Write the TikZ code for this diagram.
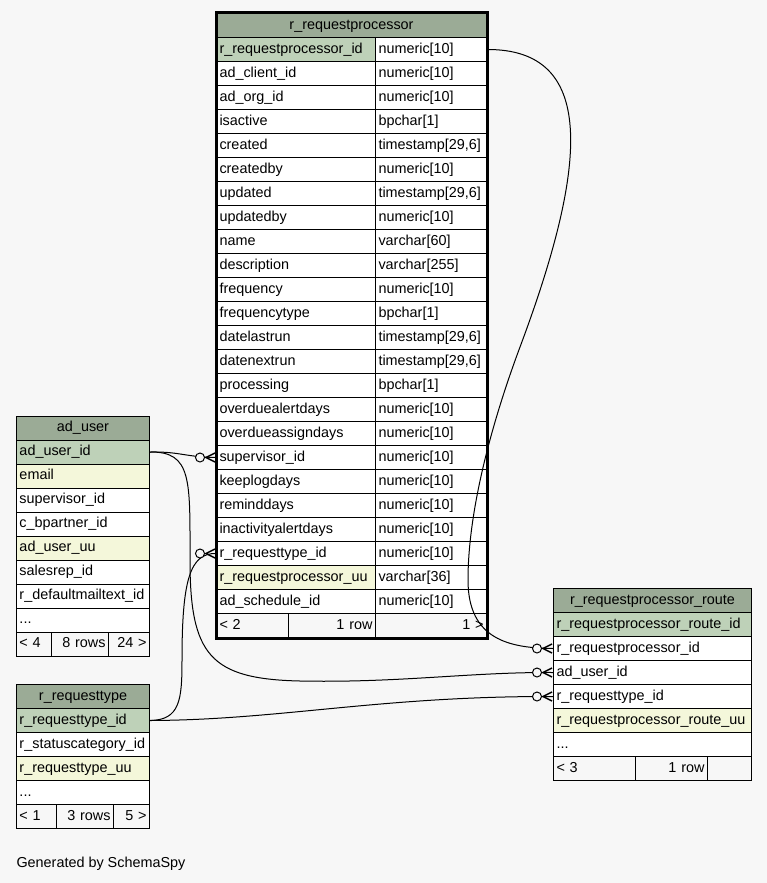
\documentclass[tikz,border=0pt]{standalone}
\usepackage{fontspec}
\setmainfont{Liberation Sans}
\usetikzlibrary{calc}

\definecolor{hdrc}{HTML}{9BAB96}
\definecolor{keyc}{HTML}{BED1B8}
\definecolor{idxc}{HTML}{F4F7DA}
\definecolor{pagebg}{HTML}{F7F7F7}

\tikzset{
  cell/.style={draw, fill=white, anchor=north west, minimum height=24pt,
    inner xsep=3pt, inner ysep=0pt, text height=11pt, text depth=3.5pt, align=left},
  head/.style={cell, fill=hdrc, align=center},
  key/.style={cell, fill=keyc},
  idx/.style={cell, fill=idxc},
  foot/.style={cell, fill=none, align=right},
}

% circle and crow's foot at the west side of a row
\newcommand{\crowodot}[1]{%
  \draw[fill=pagebg] ($(#1.west)+(-16,0)$) circle (4.5);
  \draw[line width=1.4pt] ($(#1.west)+(-1,-4.5)$) -- ($(#1.west)+(-10,0)$) -- ($(#1.west)+(-1,4.5)$);
}

\begin{document}
\begin{tikzpicture}[x=1pt,y=-1pt,line width=1pt,font=\fontsize{14.4pt}{17pt}\selectfont]
\fill[pagebg] (0,0) rectangle (767,883);
\useasboundingbox (0,0) rectangle (767,883);

% r_requestprocessor
\node[head, text width=264pt] (rp) at (216,13) {r\_requestprocessor};
\node[key, text width=153pt] (rp-1) at (216,37) {r\_requestprocessor\_id};
\node[cell, text width=105pt] (rp-1t) at (375,37) {numeric[10]};
\node[cell, text width=153pt] (rp-2) at (216,61) {ad\_client\_id};
\node[cell, text width=105pt] (rp-2t) at (375,61) {numeric[10]};
\node[cell, text width=153pt] (rp-3) at (216,85) {ad\_org\_id};
\node[cell, text width=105pt] (rp-3t) at (375,85) {numeric[10]};
\node[cell, text width=153pt] (rp-4) at (216,109) {isactive};
\node[cell, text width=105pt] (rp-4t) at (375,109) {bpchar[1]};
\node[cell, text width=153pt] (rp-5) at (216,133) {created};
\node[cell, text width=105pt] (rp-5t) at (375,133) {timestamp[29,6]};
\node[cell, text width=153pt] (rp-6) at (216,157) {createdby};
\node[cell, text width=105pt] (rp-6t) at (375,157) {numeric[10]};
\node[cell, text width=153pt] (rp-7) at (216,181) {updated};
\node[cell, text width=105pt] (rp-7t) at (375,181) {timestamp[29,6]};
\node[cell, text width=153pt] (rp-8) at (216,205) {updatedby};
\node[cell, text width=105pt] (rp-8t) at (375,205) {numeric[10]};
\node[cell, text width=153pt] (rp-9) at (216,229) {name};
\node[cell, text width=105pt] (rp-9t) at (375,229) {varchar[60]};
\node[cell, text width=153pt] (rp-10) at (216,253) {description};
\node[cell, text width=105pt] (rp-10t) at (375,253) {varchar[255]};
\node[cell, text width=153pt] (rp-11) at (216,277) {frequency};
\node[cell, text width=105pt] (rp-11t) at (375,277) {numeric[10]};
\node[cell, text width=153pt] (rp-12) at (216,301) {frequencytype};
\node[cell, text width=105pt] (rp-12t) at (375,301) {bpchar[1]};
\node[cell, text width=153pt] (rp-13) at (216,325) {datelastrun};
\node[cell, text width=105pt] (rp-13t) at (375,325) {timestamp[29,6]};
\node[cell, text width=153pt] (rp-14) at (216,349) {datenextrun};
\node[cell, text width=105pt] (rp-14t) at (375,349) {timestamp[29,6]};
\node[cell, text width=153pt] (rp-15) at (216,373) {processing};
\node[cell, text width=105pt] (rp-15t) at (375,373) {bpchar[1]};
\node[cell, text width=153pt] (rp-16) at (216,397) {overduealertdays};
\node[cell, text width=105pt] (rp-16t) at (375,397) {numeric[10]};
\node[cell, text width=153pt] (rp-17) at (216,421) {overdueassigndays};
\node[cell, text width=105pt] (rp-17t) at (375,421) {numeric[10]};
\node[cell, text width=153pt] (rp-18) at (216,445) {supervisor\_id};
\node[cell, text width=105pt] (rp-18t) at (375,445) {numeric[10]};
\node[cell, text width=153pt] (rp-19) at (216,469) {keeplogdays};
\node[cell, text width=105pt] (rp-19t) at (375,469) {numeric[10]};
\node[cell, text width=153pt] (rp-20) at (216,493) {reminddays};
\node[cell, text width=105pt] (rp-20t) at (375,493) {numeric[10]};
\node[cell, text width=153pt] (rp-21) at (216,517) {inactivityalertdays};
\node[cell, text width=105pt] (rp-21t) at (375,517) {numeric[10]};
\node[cell, text width=153pt] (rp-22) at (216,541) {r\_requesttype\_id};
\node[cell, text width=105pt] (rp-22t) at (375,541) {numeric[10]};
\node[idx, text width=153pt] (rp-23) at (216,565) {r\_requestprocessor\_uu};
\node[cell, text width=105pt] (rp-23t) at (375,565) {varchar[36]};
\node[cell, text width=153pt] (rp-24) at (216,589) {ad\_schedule\_id};
\node[cell, text width=105pt] (rp-24t) at (375,589) {numeric[10]};
\node[foot, align=left, text width=66pt] (rp-f1) at (216,613) {< 2};
\node[foot, text width=81pt] (rp-f2) at (288,613) {1 row};
\node[foot, text width=105pt] (rp-f3) at (375,613) {1 >};
\draw[line width=3pt] (rp.north west) rectangle (rp-f3.south east);

% ad_user
\node[head, text width=127pt] (au) at (16,415.5) {ad\_user};
\node[key, text width=127pt] (au-1) at (16,439.5) {ad\_user\_id};
\node[idx, text width=127pt] (au-2) at (16,463.5) {email};
\node[cell, text width=127pt] (au-3) at (16,487.5) {supervisor\_id};
\node[cell, text width=127pt] (au-4) at (16,511.5) {c\_bpartner\_id};
\node[idx, text width=127pt] (au-5) at (16,535.5) {ad\_user\_uu};
\node[cell, text width=127pt] (au-6) at (16,559.5) {salesrep\_id};
\node[cell, text width=127pt] (au-7) at (16,583.5) {r\_defaultmailtext\_id};
\node[cell, text width=127pt] (au-8) at (16,607.5) {...};
\node[foot, align=left, text width=29pt] (au-f1) at (16,631.5) {< 4};
\node[foot, text width=51pt] (au-f2) at (51,631.5) {8 rows};
\node[foot, text width=35pt] (au-f3) at (108,631.5) {24 >};

% r_requesttype
\node[head, text width=127pt] (rt) at (16,684) {r\_requesttype};
\node[key, text width=127pt] (rt-1) at (16,708) {r\_requesttype\_id};
\node[cell, text width=127pt] (rt-2) at (16,732) {r\_statuscategory\_id};
\node[idx, text width=127pt] (rt-3) at (16,756) {r\_requesttype\_uu};
\node[cell, text width=127pt] (rt-4) at (16,780) {...};
\node[foot, align=left, text width=34pt] (rt-f1) at (16,804) {< 1};
\node[foot, text width=51pt] (rt-f2) at (56,804) {3 rows};
\node[foot, text width=30pt] (rt-f3) at (113,804) {5 >};

% r_requestprocessor_route
\node[head, text width=192pt] (rr) at (553,588) {r\_requestprocessor\_route};
\node[key, text width=192pt] (rr-1) at (553,612) {r\_requestprocessor\_route\_id};
\node[cell, text width=192pt] (rr-2) at (553,636) {r\_requestprocessor\_id};
\node[cell, text width=192pt] (rr-3) at (553,660) {ad\_user\_id};
\node[cell, text width=192pt] (rr-4) at (553,684) {r\_requesttype\_id};
\node[idx, text width=192pt] (rr-5) at (553,708) {r\_requestprocessor\_route\_uu};
\node[cell, text width=192pt] (rr-6) at (553,732) {...};
\node[foot, align=left, text width=76pt] (rr-f1) at (553,756) {< 3};
\node[foot, text width=66pt] (rr-f2) at (635,756) {1 row};
\node[foot, text width=38pt] (rr-f3) at (707,756) {};

% relations
\draw (rp-1t.east) .. controls (595,49) and (590,160) .. (520,347)
  .. controls (492,422) and (468,510) .. (468,580)
  .. controls (468,640) and (510,648) .. (rr-2.west);
\draw (au-1.east) .. controls (180,451.5) and (185,457) .. (rp-18.west);
\draw (au-1.east) .. controls (192,451.5) and (190,480) .. (190,560)
  .. controls (190,655) and (210,679) .. (300,681)
  .. controls (400,683) and (470,672) .. (rr-3.west);
\draw (rt-1.east) .. controls (180,720) and (182,700) .. (182,660)
  .. controls (182,580) and (190,553) .. (rp-22.west);
\draw (rt-1.east) .. controls (280,720) and (380,696) .. (rr-4.west);

\crowodot{rp-18}
\crowodot{rp-22}
\crowodot{rr-2}
\crowodot{rr-3}
\crowodot{rr-4}

\node[anchor=base west, inner sep=0pt] (gen) at (16,867) {Generated by SchemaSpy};
\end{tikzpicture}
\end{document}
